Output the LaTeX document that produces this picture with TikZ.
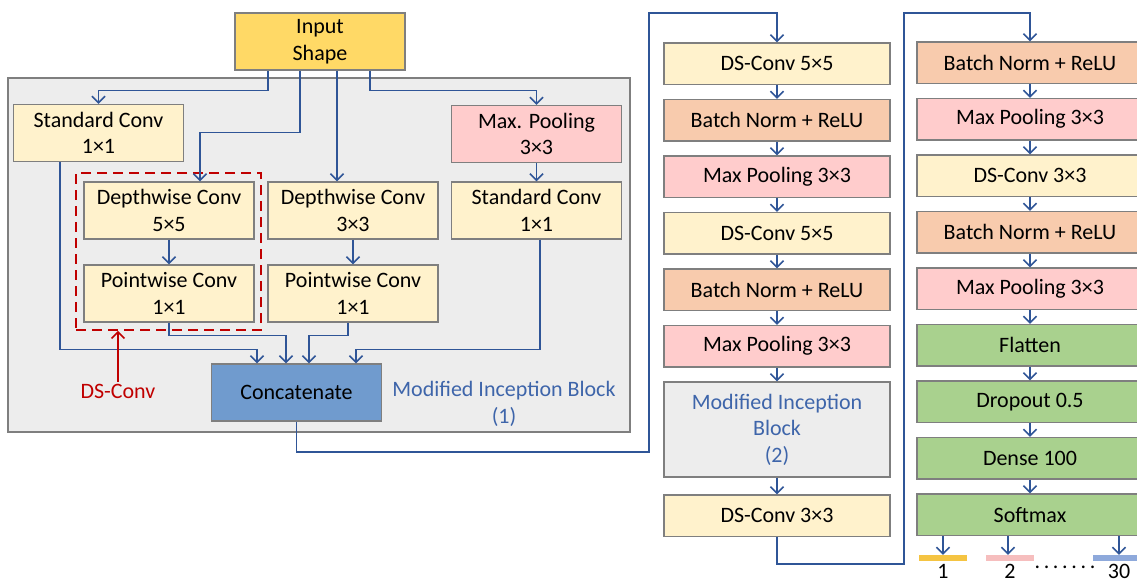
\documentclass[tikz,border=0pt]{standalone}
\usepackage{fontspec}
\setmainfont{Carlito}
\usetikzlibrary{positioning,arrows.meta}
\definecolor{flowblue}{RGB}{47,85,151}
\definecolor{labelblue}{RGB}{62,101,170}
\definecolor{edgegray}{RGB}{127,127,127}
\definecolor{panelgray}{RGB}{237,237,237}
\definecolor{inputgold}{RGB}{255,217,102}
\definecolor{convcream}{RGB}{255,242,204}
\definecolor{poolpink}{RGB}{255,204,204}
\definecolor{normorange}{RGB}{248,203,173}
\definecolor{densegreen}{RGB}{169,209,142}
\definecolor{concatblue}{RGB}{112,155,206}
\definecolor{dsred}{RGB}{192,0,0}
\definecolor{outyellow}{RGB}{245,196,66}
\definecolor{outpink}{RGB}{246,190,190}
\definecolor{outblue}{RGB}{142,169,219}
\newcommand{\diagfont}{\fontsize{22}{26.5}\selectfont}

\begin{document}
\begin{tikzpicture}[
    x=1pt, y=-1pt,
    node distance=13.7pt,
    block/.style={draw=edgegray, line width=1.3pt, inner sep=0pt, align=center,
      font=\diagfont, minimum width=170pt, minimum height=57pt},
    layer/.style={block, minimum width=226pt, minimum height=41.5pt},
    panel/.style={draw=edgegray, line width=1.3pt, fill=panelgray, inner sep=0pt},
    dsframe/.style={draw=dsred, line width=1.6pt, dash pattern=on 10pt off 6pt, inner sep=0pt},
    flow/.style={draw=flowblue, line width=1.6pt, -{Straight Barb[length=6.5pt,width=13pt]}},
    dsarrow/.style={draw=dsred, line width=1.6pt, -{Straight Barb[length=6.5pt,width=13pt]}},
    outbar/.style={inner sep=0pt, minimum width=48pt, minimum height=6pt},
    plain/.style={font=\diagfont, align=center, inner sep=2pt}
  ]
  \path[use as bounding box, clip] (0,0) rectangle (1137,583);

  % modified inception block (1)
  \node[panel, minimum width=622pt, minimum height=354pt] (panel) at (319,255) {};
  \node[block, fill=inputgold] (inp) at (320,41.5) {Input\\Shape};
  \node[block, fill=convcream] (sc1) at (98.5,133) {Standard Conv\\1×1};
  \node[block, fill=poolpink] (mp1) at (536.5,134) {Max. Pooling\\3×3};
  \node[block, fill=convcream] (dw5) at (169,210.5) {Depthwise Conv\\5×5};
  \node[block, fill=convcream] (dw3) at (353,210.5) {Depthwise Conv\\3×3};
  \node[block, fill=convcream] (sc2) at (536.5,210.5) {Standard Conv\\1×1};
  \node[block, fill=convcream] (pw1) at (169,293.5) {Pointwise Conv\\1×1};
  \node[block, fill=convcream] (pw2) at (353,293.5) {Pointwise Conv\\1×1};
  \node[dsframe, minimum width=185pt, minimum height=157pt] (dsbox) at (168.5,251.5) {};
  \node[plain, text=dsred] (dslabel) at (118,391) {DS-Conv};
  \node[block, fill=concatblue] (concat) at (296.5,392.5) {Concatenate};
  \node[plain, text=labelblue] (blk1) at (504,404) {Modified Inception Block\\(1)};

  \draw[flow] ([xshift=-52pt]inp.south) -- ++(0,20) -| (sc1.north);
  \draw[flow] ([xshift=-20pt]inp.south) -- ++(0,62) -| ([xshift=31pt]dw5.north);
  \draw[flow] ([xshift=17pt]inp.south) -- ([xshift=-16pt]dw3.north);
  \draw[flow] ([xshift=50pt]inp.south) -- ++(0,20) -| (mp1.north);
  \draw[flow] (mp1) -- (sc2);
  \draw[flow] (dw5) -- (pw1);
  \draw[flow] (dw3) -- (pw2);
  \draw[flow] ([xshift=-38.5pt]sc1.south) |- ([xshift=-39.5pt,yshift=14pt]concat.north) -- ([xshift=-39.5pt]concat.north);
  \draw[flow] (pw1.south) |- ([xshift=-10.5pt,yshift=28pt]concat.north) -- ([xshift=-10.5pt]concat.north);
  \draw[flow] ([xshift=-5pt]pw2.south) |- ([xshift=12.5pt,yshift=28pt]concat.north) -- ([xshift=12.5pt]concat.north);
  \draw[flow] ([xshift=3.5pt]sc2.south) |- ([xshift=59.5pt,yshift=14pt]concat.north) -- ([xshift=59.5pt]concat.north);
  \draw[dsarrow] (dslabel.north) -- (dslabel.north |- dsbox.south);

  % middle column
  \node[layer, fill=convcream] (c2a) at (777,63.75) {DS-Conv 5×5};
  \node[layer, fill=normorange, below=of c2a] (c2b) {Batch Norm + ReLU};
  \node[layer, fill=poolpink, below=of c2b] (c2c) {Max Pooling 3×3};
  \node[layer, fill=convcream, below=of c2c] (c2d) {DS-Conv 5×5};
  \node[layer, fill=normorange, below=of c2d] (c2e) {Batch Norm + ReLU};
  \node[layer, fill=poolpink, below=of c2e] (c2f) {Max Pooling 3×3};
  \node[layer, fill=panelgray, text=labelblue, minimum height=95pt, below=of c2f] (mib2) {Modified Inception\\Block\\(2)};
  \node[layer, fill=convcream, below=16.7pt of mib2] (c2h) {DS-Conv 3×3};

  \draw[flow] (c2a) -- (c2b);
  \draw[flow] (c2b) -- (c2c);
  \draw[flow] (c2c) -- (c2d);
  \draw[flow] (c2d) -- (c2e);
  \draw[flow] (c2e) -- (c2f);
  \draw[flow] (c2f) -- (mib2);
  \draw[flow] (mib2) -- (c2h);

  % right column
  \node[layer, fill=normorange] (c3a) at (1030,62.75) {Batch Norm + ReLU};
  \node[layer, fill=poolpink, below=of c3a] (c3b) {Max Pooling 3×3};
  \node[layer, fill=convcream, below=of c3b] (c3c) {DS-Conv 3×3};
  \node[layer, fill=normorange, below=of c3c] (c3d) {Batch Norm + ReLU};
  \node[layer, fill=poolpink, below=of c3d] (c3e) {Max Pooling 3×3};
  \node[layer, fill=densegreen, below=of c3e] (flat) {Flatten};
  \node[layer, fill=densegreen, below=of flat] (drop) {Dropout 0.5};
  \node[layer, fill=densegreen, below=of drop] (dense) {Dense 100};
  \node[layer, fill=densegreen, below=of dense] (soft) {Softmax};

  \draw[flow] (c3a) -- (c3b);
  \draw[flow] (c3b) -- (c3c);
  \draw[flow] (c3c) -- (c3d);
  \draw[flow] (c3d) -- (c3e);
  \draw[flow] (c3e) -- (flat);
  \draw[flow] (flat) -- (drop);
  \draw[flow] (drop) -- (dense);
  \draw[flow] (dense) -- (soft);

  % links between the parts
  \coordinate (turnA) at (649,452);
  \coordinate (topA) at (649,13);
  \coordinate (turnB) at (904,564);
  \coordinate (topB) at (904,13);
  \draw[flow] (concat.south) |- (turnA) -- (topA) -| (c2a.north);
  \draw[flow] (c2h.south) |- (turnB) -- (topB) -| (c3a.north);

  % outputs
  \node[outbar, fill=outyellow] (o1) at (943,558) {};
  \node[outbar, fill=outpink] (o2) at (1010,558) {};
  \node[outbar, fill=outblue] (o30) at (1117,558) {};
  \node[plain, inner sep=0pt] (n1) at (943,571) {1};
  \node[plain, inner sep=0pt] (n2) at (1010,571) {2};
  \node[plain, inner sep=0pt] (n30) at (1119,571) {30};
  \node[plain] (dots) at (1065,567) {.\,.\,.\,.\,.\,.\,.};
  \draw[flow] (o1.north |- soft.south) -- (o1.north);
  \draw[flow] ([xshift=-2pt]o2.north |- soft.south) -- ([xshift=-2pt]o2.north);
  \draw[flow] ([xshift=2pt]o30.north |- soft.south) -- ([xshift=2pt]o30.north);
\end{tikzpicture}
\end{document}
